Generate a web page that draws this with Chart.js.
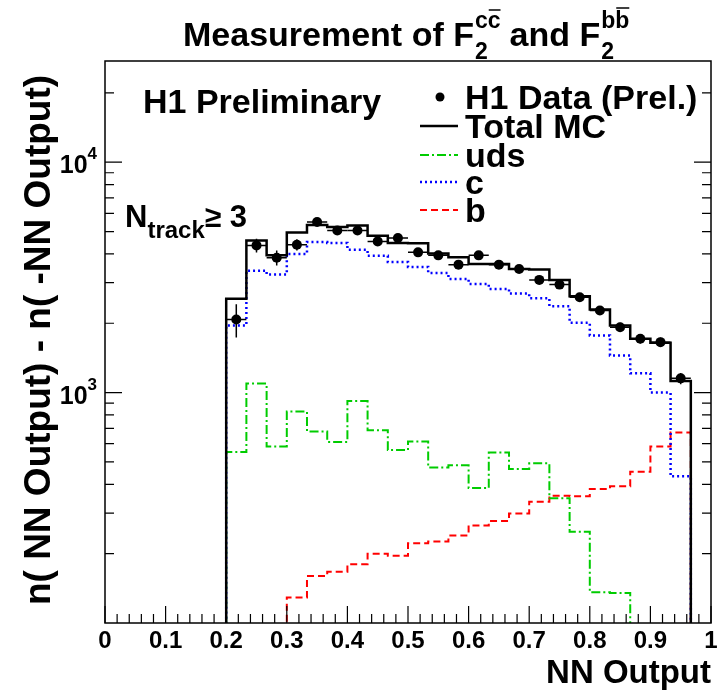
<!DOCTYPE html>
<html>
<head>
<meta charset="utf-8">
<script src="https://cdn.jsdelivr.net/npm/chart.js@4.4.1/dist/chart.umd.min.js"></script>
<style>
  html, body { margin: 0; padding: 0; background: #fff; }
</style>
</head>
<body>
<canvas id="chart" width="718" height="696"></canvas>
<script>
// bin edges of the NN output histograms (width 1/30)
var binEdges = [0.2, 0.2333, 0.2667, 0.3, 0.3333, 0.3667, 0.4, 0.4333, 0.4667, 0.5,
                0.5333, 0.5667, 0.6, 0.6333, 0.6667, 0.7, 0.7333, 0.7667, 0.8, 0.8333,
                0.8667, 0.9, 0.9333, 0.9667];

// H1 data, one value per bin
var dataValues = [2076, 4355, 3852, 4385, 5499, 5057, 5057, 4532, 4688, 4062, 3942, 3593,
                  3942, 3593, 3442, 3085, 2943, 2594, 2271, 1923, 1713, 1656, 1153];
var dataErrors = [340, 300, 290, 250, 200, 180, 180, 160, 165, 150, 145, 135,
                  145, 135, 130, 120, 115, 105, 95, 85, 80, 78, 65];

// MC predictions
var totalMC = [2553, 4577, 3942, 4958, 5337, 5231, 5315, 4797, 4461, 4452, 4021, 3864,
               3618, 3618, 3442, 3419, 3085, 2620, 2294, 1956, 1713, 1646, 1123];
var cQuark = [1956, 3384, 3252, 3997, 4505, 4461, 4173, 3929, 3691, 3512, 3307, 3115,
              2964, 2820, 2691, 2568, 2371, 2009, 1770, 1450, 1212, 1000, 433];
// uds: first 20 bins, the rest is below the plot
var udsQuark = [553, 1094, 584, 827, 678, 611, 920, 687, 563, 614, 473, 484,
                385, 550, 466, 493, 348, 249, 136, 135];
// b: starts at bin 3 (NN = 0.3)
var bStart = 3;
var bQuark = [129, 160, 167, 180, 200, 196, 222, 226, 240, 265, 277, 299, 336, 357,
              355, 382, 392, 453, 584, 671];

var legendLabels = ['H1 Data (Prel.)', 'Total MC', 'uds', 'c', 'b'];
var yMajorTicks = [1000, 10000];
var yMinorTicks = [200, 300, 400, 500, 600, 700, 800, 900,
                   2000, 3000, 4000, 5000, 6000, 7000, 8000, 9000, 20000];

var FLOOR = 1; // below the axis, used to close the histograms
var FONT = '"Liberation Sans", Arial, sans-serif';

function histPoints(values, firstBin) {
  var pts = [{x: binEdges[firstBin], y: FLOOR}];
  for (var i = 0; i < values.length; i++) {
    pts.push({x: binEdges[firstBin + i], y: values[i]});
  }
  pts.push({x: binEdges[firstBin + values.length], y: values[values.length - 1]});
  pts.push({x: binEdges[firstBin + values.length], y: FLOOR});
  return pts;
}

var dataPoints = dataValues.map(function(v, i) {
  return {x: (binEdges[i] + binEdges[i + 1]) / 2, y: v};
});

function txt(ctx, s, x, y, size, align) {
  ctx.font = 'bold ' + size + 'px ' + FONT;
  ctx.textAlign = align || 'left';
  ctx.fillText(s, x, y);
  return ctx.measureText(s).width;
}

var rootStyle = {
  id: 'rootStyle',
  beforeDatasetDraw: function(chart, args) {
    if (args.index !== 0) return;
    // error bars of the data
    var ctx = chart.ctx, xs = chart.scales.x, ys = chart.scales.y;
    ctx.save();
    ctx.strokeStyle = '#000';
    ctx.lineWidth = 1.5;
    dataValues.forEach(function(v, i) {
      var py = ys.getPixelForValue(v);
      ctx.beginPath();
      ctx.moveTo(xs.getPixelForValue(binEdges[i]), py);
      ctx.lineTo(xs.getPixelForValue(binEdges[i + 1]), py);
      var xc = xs.getPixelForValue(dataPoints[i].x);
      ctx.moveTo(xc, ys.getPixelForValue(v - dataErrors[i]));
      ctx.lineTo(xc, ys.getPixelForValue(v + dataErrors[i]));
      ctx.stroke();
    });
    ctx.restore();
  },
  afterDraw: function(chart) {
    var ctx = chart.ctx, a = chart.chartArea;
    var xs = chart.scales.x, ys = chart.scales.y;
    ctx.save();
    ctx.fillStyle = '#000';
    ctx.strokeStyle = '#000';
    ctx.textBaseline = 'alphabetic';

    // frame
    ctx.lineWidth = 1.5;
    ctx.strokeRect(a.left, a.top, a.right - a.left, a.bottom - a.top);

    // x ticks (inside, bottom only)
    ctx.lineWidth = 1.2;
    ctx.beginPath();
    for (var k = 0; k <= 50; k++) {
      var px = xs.getPixelForValue(k / 50);
      var len = (k % 5 === 0) ? 17 : 9;
      ctx.moveTo(px, a.bottom);
      ctx.lineTo(px, a.bottom - len);
    }
    // y ticks (inside, both sides)
    yMajorTicks.concat(yMinorTicks).forEach(function(v) {
      var py = ys.getPixelForValue(v);
      var len = yMajorTicks.indexOf(v) >= 0 ? 17 : 9;
      ctx.moveTo(a.left, py); ctx.lineTo(a.left + len, py);
      ctx.moveTo(a.right, py); ctx.lineTo(a.right - len, py);
    });
    ctx.stroke();

    // y tick labels 10^3, 10^4
    yMajorTicks.forEach(function(v) {
      var py = ys.getPixelForValue(v);
      var e = String(Math.round(Math.log10(v)));
      ctx.font = 'bold 17px ' + FONT;
      var we = ctx.measureText(e).width;
      txt(ctx, e, a.left - 8, py - 3, 17, 'right');
      txt(ctx, '10', a.left - 8 - we, py + 11, 25, 'right');
    });

    // title
    var x = 183, base = 46;
    x += txt(ctx, 'Measurement of F', x, base, 34);
    txt(ctx, '2', x + 1, base + 13, 23);
    var w = txt(ctx, 'cc', x + 1, base - 18, 23);
    ctx.lineWidth = 1.5;
    ctx.beginPath();
    ctx.moveTo(x + 1 + w / 2 + 1, base - 36); ctx.lineTo(x + 1 + w, base - 36);
    ctx.stroke();
    x += w + 10;
    x += txt(ctx, 'and F', x, base, 34);
    txt(ctx, '2', x + 1, base + 13, 23);
    w = txt(ctx, 'bb', x + 1, base - 18, 23);
    ctx.beginPath();
    ctx.moveTo(x + 1 + w / 2 + 1, base - 38); ctx.lineTo(x + 1 + w, base - 38);
    ctx.stroke();

    // y axis title
    ctx.save();
    ctx.translate(50, 340);
    ctx.rotate(-Math.PI / 2);
    txt(ctx, 'n( NN Output) - n( -NN Output)', 0, 0, 37, 'center');
    ctx.restore();

    // H1 Preliminary
    txt(ctx, 'H1 Preliminary', 143, 113, 34);

    // N_track >= 3
    var nx = 125;
    nx += txt(ctx, 'N', nx, 227, 31);
    nx += txt(ctx, 'track', nx, 238, 24);
    nx += txt(ctx, '\u2265', nx, 227, 30);
    txt(ctx, ' 3', nx, 227, 31);

    // legend
    var ds = chart.data.datasets;
    var rowY = [97, 126, 155, 182, 210];
    legendLabels.forEach(function(lab, i) {
      var ry = rowY[i];
      if (i === 0) {
        ctx.beginPath();
        ctx.arc(440, ry, 4.5, 0, 2 * Math.PI);
        ctx.fill();
      } else {
        var d = ds[i];
        ctx.save();
        ctx.strokeStyle = d.borderColor;
        ctx.lineWidth = d.borderWidth;
        ctx.setLineDash(d.borderDash || []);
        ctx.beginPath();
        ctx.moveTo(420, ry); ctx.lineTo(458, ry);
        ctx.stroke();
        ctx.restore();
      }
      txt(ctx, lab, 465, ry + 12, 34);
    });
    ctx.restore();
  }
};

var ctx = document.getElementById('chart').getContext('2d');
var chart = new Chart(ctx, {
  type: 'line',
  data: {
    datasets: [
      {
        type: 'scatter',
        label: legendLabels[0],
        data: dataPoints,
        pointRadius: 5,
        pointBackgroundColor: '#000',
        pointBorderColor: '#000',
        pointBorderWidth: 0,
        showLine: false
      },
      {
        label: legendLabels[1],
        data: histPoints(totalMC, 0),
        borderColor: '#000',
        borderWidth: 2.5,
        stepped: 'before',
        pointRadius: 0,
        fill: false
      },
      {
        label: legendLabels[2],
        data: histPoints(udsQuark, 0),
        borderColor: 'rgb(0,204,0)',
        borderWidth: 2,
        borderDash: [9, 3, 2, 3],
        stepped: 'before',
        pointRadius: 0,
        fill: false
      },
      {
        label: legendLabels[3],
        data: histPoints(cQuark, 0),
        borderColor: 'rgb(0,0,255)',
        borderWidth: 2.5,
        borderDash: [2, 3],
        stepped: 'before',
        pointRadius: 0,
        fill: false
      },
      {
        label: legendLabels[4],
        data: histPoints(bQuark, bStart),
        borderColor: 'rgb(255,0,0)',
        borderWidth: 2,
        borderDash: [7, 4],
        stepped: 'before',
        pointRadius: 0,
        fill: false
      }
    ]
  },
  options: {
    responsive: false,
    animation: false,
    devicePixelRatio: 1,
    layout: { padding: { top: 61, right: 7, left: 0, bottom: 0 } },
    plugins: { legend: { display: false }, tooltip: { enabled: false } },
    scales: {
      x: {
        type: 'linear',
        min: 0,
        max: 1,
        afterFit: function(s) { s.height = 73; s.paddingLeft = 0; s.paddingRight = 0; },
        grid: { display: false, drawTicks: false },
        border: { display: false },
        ticks: {
          stepSize: 0.1,
          padding: 4,
          color: '#000',
          font: { family: FONT, size: 24, weight: 'bold' },
          callback: function(v) { return String(Number(v.toFixed(1))); }
        },
        title: {
          display: true,
          text: 'NN Output',
          align: 'end',
          color: '#000',
          font: { family: FONT, size: 33, weight: 'bold' },
          padding: { top: 0, bottom: 2 }
        }
      },
      y: {
        type: 'logarithmic',
        min: 100,
        max: 27500,
        afterFit: function(s) { s.width = 105; },
        grid: { display: false, drawTicks: false },
        border: { display: false },
        ticks: { display: false }
      }
    }
  },
  plugins: [rootStyle]
});
</script>
</body>
</html>
